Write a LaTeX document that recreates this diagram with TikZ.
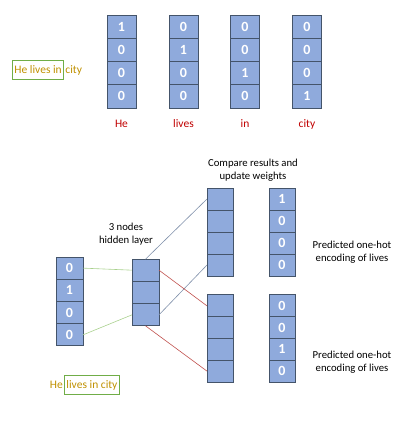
\documentclass[tikz,border=0pt]{standalone}
\usepackage{fontspec}
\setmainfont{Carlito}
\usetikzlibrary{positioning}
\definecolor{cellblue}{HTML}{8FAADC}
\definecolor{celledge}{HTML}{44546A}
\definecolor{wordred}{HTML}{C00000}
\definecolor{sentgold}{HTML}{BF9000}
\definecolor{boxgreen}{HTML}{70AD47}
\definecolor{lgreen}{HTML}{A9D18E}
\definecolor{lblue}{HTML}{7F8FA9}
\definecolor{lred}{HTML}{C0504D}

\begin{document}
\begin{tikzpicture}[x=1pt,y=-1pt,
  cell/.style={draw=celledge,line width=0.9pt,fill=cellblue,inner sep=0pt,outer sep=0pt,
    minimum width=27pt,minimum height=22pt,text=white,font=\bfseries\fontsize{14}{14}\selectfont},
  topcell/.style={cell,minimum width=29pt,minimum height=23.25pt},
  word/.style={text=wordred,font=\fontsize{11.5}{13}\selectfont},
  sent/.style={text=sentgold,font=\fontsize{11.5}{13}\selectfont,inner sep=1pt},
  sbox/.style={sent,draw=boxgreen,line width=0.9pt,minimum height=19pt,inner sep=2pt},
  note/.style={font=\fontsize{10.7}{12.5}\selectfont,align=center},
  wire/.style={line width=0.6pt}]
\useasboundingbox (0,0) rectangle (412,421);

% one-hot vectors of the four words
\foreach \x/\w [count=\c] in {121.5/He,183.5/lives,245/in,307/city}{
  \foreach \r in {1,...,4}
    \node[topcell] (t\c\r) at (\x,{15+23.25*(\r-0.5)}) {\ifnum\r=\c\relax 1\else 0\fi};
  \node[word] (w\c) at (\x,124) {\w};
}
\node[sbox,anchor=west] (s1) at (12,70) {He lives in};
\node[sent,right=0pt of s1] (s1b) {city};

% input, hidden layer, outputs and targets
\foreach \v [count=\r] in {0,1,0,0}
  \node[cell] (in\r) at (69.5,{257+22.25*(\r-0.5)}) {\v};
\foreach \r in {1,2,3}
  \node[cell] (h\r) at (145.5,{259+22.33*(\r-0.5)}) {};
\foreach \r in {1,...,4}{
  \node[cell,minimum width=26pt] (o\r) at (220,{188+22*(\r-0.5)}) {};
  \node[cell,minimum width=26pt] (p\r) at (220,{295+21.75*(\r-0.5)}) {};
}
\foreach \v [count=\r] in {1,0,0,0}
  \node[cell,minimum width=26pt] (a\r) at (282,{188+22*(\r-0.5)}) {\v};
\foreach \v [count=\r] in {0,0,1,0}
  \node[cell,minimum width=26pt] (b\r) at (282,{295+21.75*(\r-0.5)}) {\v};

\draw[wire,lgreen] (in1.east) -- (h1.west);
\draw[wire,lgreen] (in4.east) -- (h3.west);
\draw[wire,lblue] (h1.north) -- (o1.west);
\draw[wire,lblue] (h3.east) -- (o4.west);
\draw[wire,lred] (h1.east) -- (p1.west);
\draw[wire,lred] (h3.south) -- (p4.west);

\node[note] (hid) at (126,234) {3 nodes\\hidden layer};
\node[note] (cmp) at (253,170) {Compare results and\\update weights};
\node[note] (pr1) at (352,252) {Predicted one-hot\\encoding of lives};
\node[note] (pr2) at (352,362) {Predicted one-hot\\encoding of lives};

\node[sbox,anchor=west] (s2) at (64,385) {lives in city};
\node[sent,left=0pt of s2] (s2a) {He};
\end{tikzpicture}
\end{document}
